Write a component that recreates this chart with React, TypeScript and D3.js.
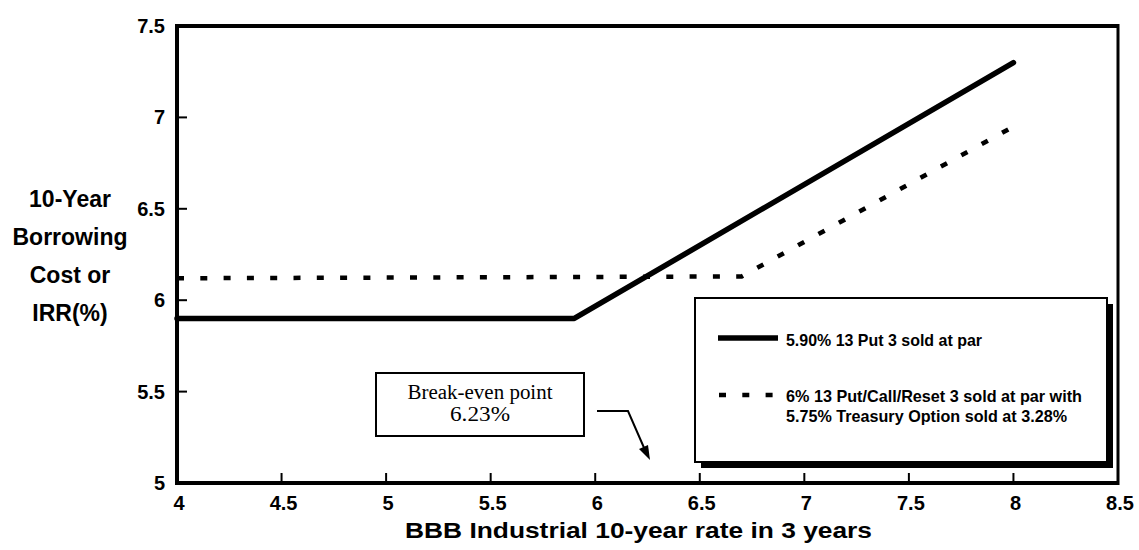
import React from "react";
import * as d3 from "d3";

const xTicks = [4, 4.5, 5, 5.5, 6, 6.5, 7, 7.5, 8, 8.5];
const yTicks = [5, 5.5, 6, 6.5, 7, 7.5];

const putRates = [4, 5.9, 8];
const putCosts = [5.9, 5.9, 7.3];

const resetRates = [4, 6.7, 8];
const resetCosts = [6.12, 6.13, 6.95];

const yTitleLines = ["10-Year", "Borrowing", "Cost or", "IRR(%)"];
const xTitle = "BBB Industrial 10-year rate in 3 years";
const legendPut = "5.90% 13 Put 3 sold at par";
const legendReset = ["6% 13 Put/Call/Reset 3 sold at par with", "5.75% Treasury Option sold at 3.28%"];
const noteLines = ["Break-even point", "6.23%"];

const W = 1139;
const H = 550;
const L = 177, R = 1118, T = 26, B = 483;

const SANS = "'Liberation Sans', Arial, Helvetica, sans-serif";
const SERIF = "'Liberation Serif', 'Times New Roman', Times, serif";

export default function App() {
  const x = d3.scaleLinear().domain([4, 8.5]).range([L, R]);
  const y = d3.scaleLinear().domain([5, 7.5]).range([B, T]);
  const line = d3
    .line<[number, number]>()
    .x((d) => x(d[0]))
    .y((d) => y(d[1]));
  const putData = putRates.map((r, i) => [r, putCosts[i]] as [number, number]);
  const resetData = resetRates.map((r, i) => [r, resetCosts[i]] as [number, number]);

  // legend box
  const lgX = 695, lgY = 298, lgW = 412, lgH = 164;
  // note box
  const nbX = 376, nbY = 373, nbW = 208, nbH = 63;

  return (
    <svg
      width={W}
      height={H}
      style={{ position: "absolute", left: 0, top: 0, background: "#fff" }}
    >
      <rect x={0} y={0} width={W} height={H} fill="#fff" />
      {/* ticks */}
      {xTicks.slice(1, -1).map((t) => (
        <line key={"xt" + t} x1={x(t)} x2={x(t)} y1={B} y2={B - 10} stroke="#000" strokeWidth={2} />
      ))}
      {yTicks.slice(1, -1).map((t) => (
        <line key={"yt" + t} x1={L} x2={L + 10} y1={y(t)} y2={y(t)} stroke="#000" strokeWidth={2} />
      ))}
      {/* frame */}
      <line x1={L} x2={L} y1={T - 2} y2={B + 2} stroke="#000" strokeWidth={4} />
      <line x1={L - 2} x2={R + 1} y1={B} y2={B} stroke="#000" strokeWidth={4} />
      <line x1={L - 2} x2={R + 1} y1={T} y2={T} stroke="#000" strokeWidth={4} />
      <line x1={R} x2={R} y1={T - 2} y2={B + 2} stroke="#000" strokeWidth={3} />

      {/* tick labels */}
      {xTicks.map((t) => (
        <text
          key={"xl" + t}
          x={x(t) + 2}
          y={510}
          textAnchor="middle"
          fontFamily={SANS}
          fontWeight="bold"
          fontSize={20}
        >
          {String(t)}
        </text>
      ))}
      {yTicks.map((t) => (
        <text
          key={"yl" + t}
          x={165}
          y={y(t) + 7}
          textAnchor="end"
          fontFamily={SANS}
          fontWeight="bold"
          fontSize={20}
        >
          {String(t)}
        </text>
      ))}

      {/* axis titles */}
      {yTitleLines.map((s, i) => (
        <text
          key={s}
          x={70}
          y={207 + i * 38}
          textAnchor="middle"
          fontFamily={SANS}
          fontWeight="bold"
          fontSize={23}
        >
          {s}
        </text>
      ))}
      <text
        x={405}
        y={538}
        fontFamily={SANS}
        fontWeight="bold"
        fontSize={22}
        textLength={467}
        lengthAdjust="spacingAndGlyphs"
      >
        {xTitle}
      </text>

      {/* series */}
      <path
        d={line(resetData) || ""}
        fill="none"
        stroke="#000"
        strokeWidth={4.5}
        strokeDasharray="7 16.3"
      />
      <path
        d={line(putData) || ""}
        fill="none"
        stroke="#000"
        strokeWidth={5.5}
        strokeLinecap="round"
        strokeLinejoin="round"
      />

      {/* legend */}
      <rect x={lgX + 6} y={lgY + 6} width={lgW} height={lgH} fill="#000" />
      <rect x={lgX} y={lgY} width={lgW} height={lgH} fill="#fff" stroke="#000" strokeWidth={2} />
      <line x1={718} x2={778} y1={338} y2={338} stroke="#000" strokeWidth={5.5} />
      <text
        x={786}
        y={346}
        fontFamily={SANS}
        fontWeight="bold"
        fontSize={16.5}
        textLength={196}
        lengthAdjust="spacingAndGlyphs"
      >
        {legendPut}
      </text>
      <line
        x1={719}
        x2={778}
        y1={395}
        y2={395}
        stroke="#000"
        strokeWidth={4.5}
        strokeDasharray="7 16.3"
      />
      {legendReset.map((s, i) => (
        <text
          key={s}
          x={786}
          y={402 + i * 20}
          fontFamily={SANS}
          fontWeight="bold"
          fontSize={16.5}
          textLength={i === 0 ? 296 : 281}
          lengthAdjust="spacingAndGlyphs"
        >
          {s}
        </text>
      ))}

      {/* break-even note */}
      <rect x={nbX} y={nbY} width={nbW} height={nbH} fill="#fff" stroke="#000" strokeWidth={2} />
      {noteLines.map((s, i) => (
        <text
          key={s}
          x={480}
          y={399 + i * 22}
          textAnchor="middle"
          fontFamily={SERIF}
          fontSize={20}
          textLength={i === 0 ? 145 : 60}
          lengthAdjust="spacingAndGlyphs"
        >
          {s}
        </text>
      ))}
      <polyline
        points="597,411 628,411 645,450"
        fill="none"
        stroke="#000"
        strokeWidth={2}
      />
      <polygon points="650,460 639,449 648,445" fill="#000" />
    </svg>
  );
}
